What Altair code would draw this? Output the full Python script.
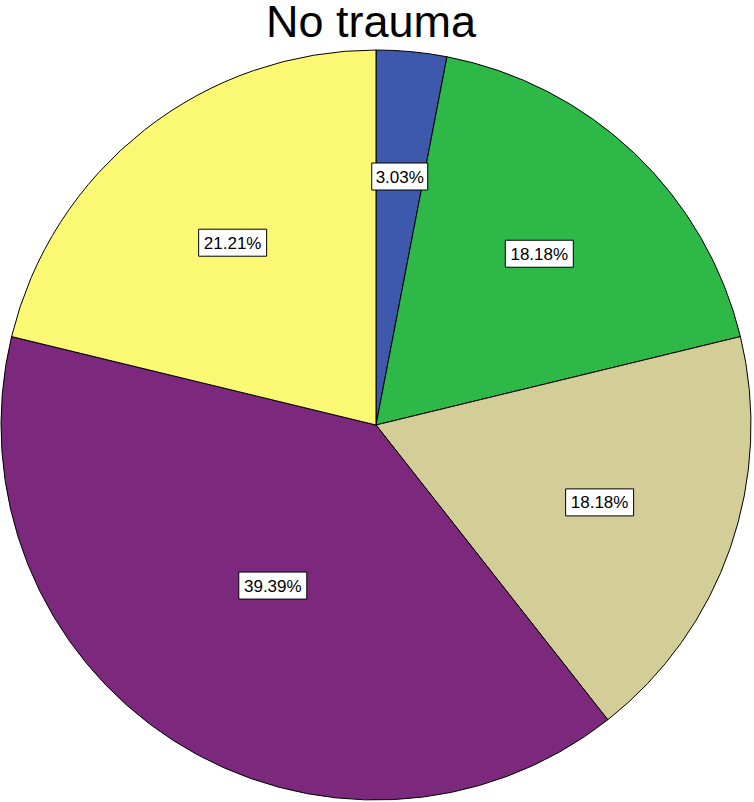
import altair as alt
import pandas as pd

# Slice data (clockwise from 12 o'clock)
categories = ["Group 1", "Group 2", "Group 3", "Group 4", "Group 5"]
counts = [1, 6, 6, 13, 7]
colors = ["#3E58AC", "#2EB848", "#D3CE97", "#7C287D", "#FBF873"]
title_text = "No trauma"

# Pie geometry (pixels)
CX, CY, R = 376, 425, 375
FONT = "Liberation Sans"

df = pd.DataFrame({"category": categories, "count": counts,
                   "order": list(range(len(categories)))})

pie = alt.Chart(df).mark_arc(radius=R, stroke="black", strokeWidth=1).encode(
    theta=alt.Theta("count:Q", stack=True),
    color=alt.Color("category:N", scale=alt.Scale(domain=categories, range=colors),
                    legend=None),
    order=alt.Order("order:Q"),
    x=alt.value(CX),
    y=alt.value(CY),
)

# Label anchor: centroid of each sector
labels_base = alt.Chart(df).transform_joinaggregate(
    total="sum(count)"
).transform_window(
    cum="sum(count)", sort=[alt.SortField("order")], frame=[None, 0]
).transform_calculate(
    pct="datum.count / datum.total",
    half="PI * datum.count / datum.total",
    mid="2 * PI * (datum.cum - datum.count / 2) / datum.total",
).transform_calculate(
    rr=f"2 * {R} * sin(datum.half) / (3 * datum.half)",
    label="format(datum.pct, '.2%')",
).transform_calculate(
    lx=f"{CX} + datum.rr * sin(datum.mid)",
    ly=f"{CY} - datum.rr * cos(datum.mid)",
    bw="12 * length(datum.label) - 4",
).transform_calculate(
    x1="datum.lx - datum.bw / 2",
    x2="datum.lx + datum.bw / 2",
    y1="datum.ly - 13.5",
    y2="datum.ly + 13.5",
)

boxes = labels_base.mark_rect(fill="white", stroke="black", strokeWidth=1).encode(
    x=alt.X("x1:Q", scale=None, axis=None),
    x2="x2:Q",
    y=alt.Y("y1:Q", scale=None, axis=None),
    y2="y2:Q",
)

texts = labels_base.mark_text(font=FONT, fontSize=17, baseline="middle",
                              align="center", dy=1, color="black").encode(
    x=alt.X("lx:Q", scale=None, axis=None),
    y=alt.Y("ly:Q", scale=None, axis=None),
    text="label:N",
)

title = alt.Chart(pd.DataFrame({"t": [title_text]})).mark_text(
    font=FONT, fontSize=45, baseline="alphabetic", align="center", color="black"
).encode(text="t:N", x=alt.value(371), y=alt.value(37))

chart = alt.layer(pie, boxes, texts, title).properties(
    width=754, height=802, autosize="none", padding=0
).configure_view(strokeWidth=0)

chart.save("out.html", embed_options={"renderer": "svg", "actions": False})
